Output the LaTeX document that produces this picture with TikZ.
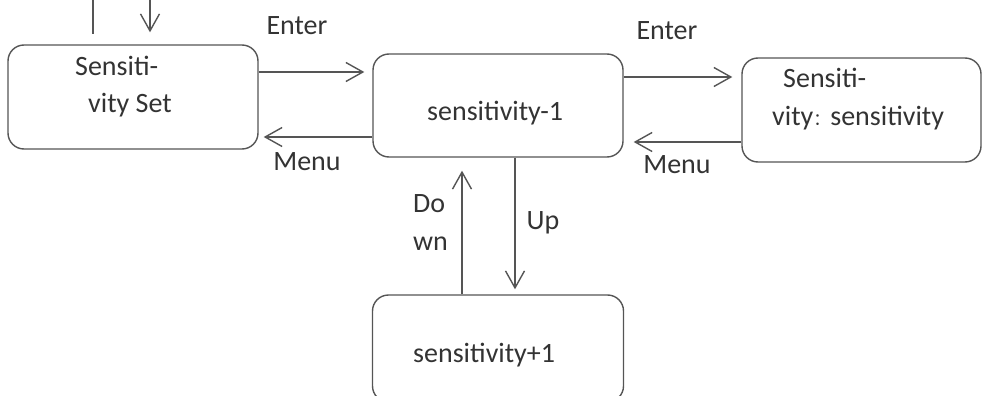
\documentclass[tikz,border=0pt]{standalone}
\usepackage{fontspec}
\setmainfont{Carlito}
\newfontfamily\cjk{Noto Sans CJK SC}
\usepackage{xcolor}
\usetikzlibrary{arrows.meta, positioning}

\definecolor{linegray}{HTML}{555555}
\definecolor{textgray}{HTML}{333333}

\begin{document}
\begin{tikzpicture}[
  x=1pt, y=1pt,
  font=\fontsize{28}{37.5}\selectfont,
  every node/.style={text=textgray, inner sep=0pt},
  link/.style={draw=linegray, line width=1.4pt},
  arr/.style={link, -{Straight Barb[length=17pt, width=19pt]}},
  state/.style={rectangle, rounded corners=16pt, draw=linegray, line width=1.4pt,
                minimum width=250pt, minimum height=103pt},
  lbl/.style={anchor=base},
  txt/.style={anchor=base west, align=left},
]
\useasboundingbox (0,0) rectangle (983,-396);

% States
\node[state, minimum height=104pt]                    (sset)   at (133,-97)    {};
\node[state]                                          (sminus) at (498,-105.5) {};
\node[state, minimum width=239pt, minimum height=104pt] (sshow) at (861.5,-110) {};
\node[state, minimum width=251pt, minimum height=107pt] (splus) at (498,-348.5) {};

% State texts (base = last line)
\node[txt] (ssetText)   at (75,-113)  {Sensiti-\\\hspace*{13pt}vity Set};
\node[txt] (sminusText) at (427,-120) {sensitivity-1};
\node[txt] (sshowText)  at (772,-125) {\hspace*{11pt}Sensiti-\\vity{\cjk\fontsize{17}{17}\selectfont ：}sensitivity};
\node[txt] (splusText)  at (413,-362) {sensitivity+1};

% Key labels
\node[lbl] (enterA) at (297,-35)  {Enter};
\node[lbl] (menuA)  at (307,-170) {Menu};
\node[lbl] (enterB) at (667,-40)  {Enter};
\node[lbl] (menuB)  at (677,-173) {Menu};
\node[txt] (downL)  at (413,-250) {Do\\wn};
\node[lbl] (upL)    at (543,-229) {Up};

% Incoming stubs
\coordinate (stubA) at (93,0);
\coordinate (stubB) at (150,0);
\draw[link, shorten >=10pt] (stubA) -- (stubA |- sset.north);
\draw[arr, shorten >=12pt]  (stubB) -- (stubB |- sset.north);

% Transitions
\draw[arr, shorten >=8pt]  ([yshift=25pt]sset.east)     -- ([yshift=33.5pt]sminus.west);
\draw[arr, shorten >=5pt]  ([yshift=-31.5pt]sminus.west) -- ([yshift=-40pt]sset.east);
\draw[arr, shorten >=9pt]  ([yshift=28.5pt]sminus.east)  -- ([yshift=33pt]sshow.west);
\draw[arr, shorten >=10pt] ([yshift=-32pt]sshow.west)    -- ([yshift=-36.5pt]sminus.east);
\draw[arr, shorten >=5pt]  ([xshift=17pt]sminus.south)   -- ([xshift=17pt]splus.north);
\draw[arr, shorten >=13pt] ([xshift=-36pt]splus.north)   -- ([xshift=-36pt]sminus.south);

\end{tikzpicture}
\end{document}
